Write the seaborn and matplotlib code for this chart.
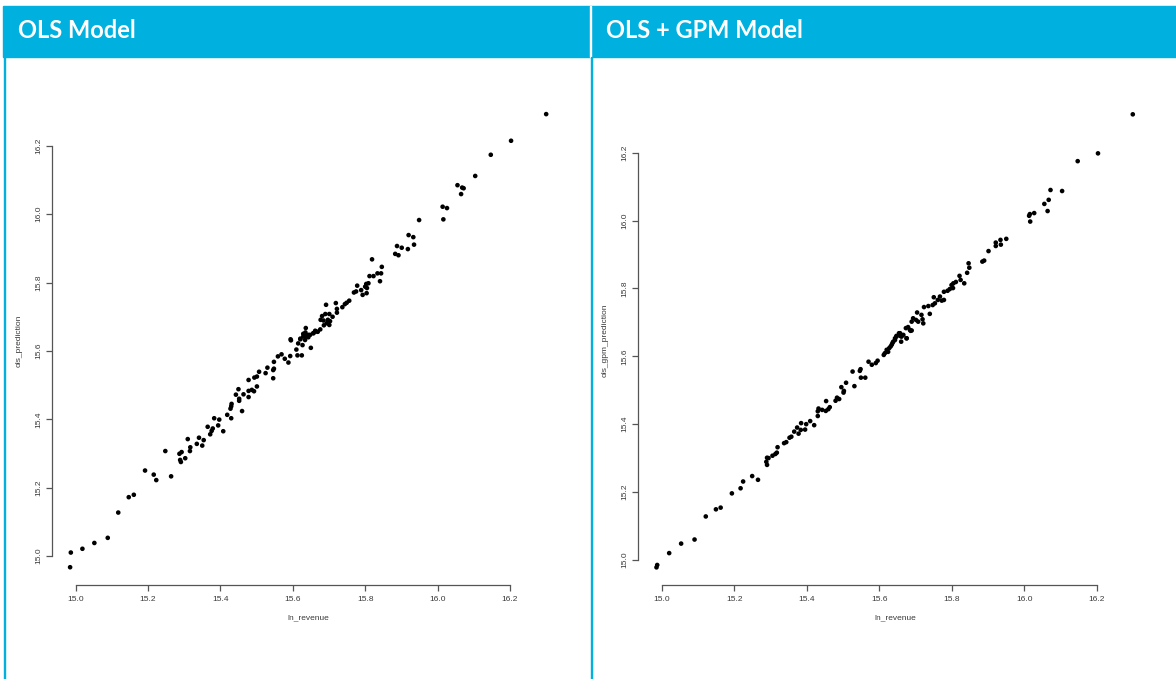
import matplotlib
matplotlib.use("Agg")
import matplotlib.pyplot as plt
from matplotlib.patches import Rectangle
import pandas as pd
import seaborn as sns

# ---------------- data ----------------
panel_titles = ["OLS Model", "OLS + GPM Model"]
x_label = "ln_revenue"
y_labels = ["ols_prediction", "ols_gpm_prediction"]
tick_values = [15.0, 15.2, 15.4, 15.6, 15.8, 16.0, 16.2]
tick_labels = ["15.0", "15.2", "15.4", "15.6", "15.8", "16.0", "16.2"]

ols_x = [16.300, 16.203, 16.147, 16.104, 16.055, 16.068, 16.072, 16.065, 16.014, 16.026,
         16.016, 15.949, 15.920, 15.933, 15.935, 15.918, 15.888, 15.901, 15.883, 15.892,
         15.819, 15.846, 15.834, 15.844, 15.812, 15.823, 15.841, 15.809, 15.803, 15.778,
         15.800, 15.805, 15.789, 15.769, 15.775, 15.793, 15.804, 15.756, 15.749, 15.744,
         15.737, 15.719, 15.692, 15.722, 15.722, 15.681, 15.690, 15.701, 15.710, 15.697,
         15.685, 15.677, 15.703, 15.694, 15.701, 15.686, 15.676, 15.669, 15.662, 15.636,
         15.657, 15.648, 15.639, 15.629, 15.643, 15.594, 15.621,
         14.987, 14.985, 15.019, 15.052, 15.089, 15.118, 15.147, 15.161, 15.192, 15.216,
         15.223, 15.248, 15.264, 15.287, 15.293, 15.289, 15.291, 15.303, 15.310, 15.317,
         15.316, 15.341, 15.354, 15.335, 15.350, 15.365, 15.379, 15.376, 15.372, 15.383,
         15.397, 15.394, 15.408, 15.419, 15.430, 15.428, 15.431, 15.430, 15.460, 15.443,
         15.450, 15.452, 15.452, 15.464, 15.478, 15.478, 15.487, 15.493, 15.478, 15.501,
         15.494, 15.501, 15.507, 15.525, 15.530, 15.546, 15.548, 15.546, 15.548, 15.559,
         15.569, 15.578, 15.588, 15.593, 15.595, 15.610, 15.613, 15.625, 15.615, 15.627,
         15.621, 15.634, 15.639, 15.629, 15.635, 15.643, 15.650, 15.657, 15.664]
ols_pred = [16.293, 16.215, 16.174, 16.112, 16.085, 16.078, 16.076, 16.059, 16.022, 16.018,
            15.985, 15.983, 15.939, 15.933, 15.911, 15.898, 15.907, 15.902, 15.884, 15.880,
            15.868, 15.846, 15.827, 15.827, 15.819, 15.819, 15.804, 15.798, 15.796, 15.791,
            15.788, 15.784, 15.778, 15.771, 15.774, 15.764, 15.769, 15.747, 15.741, 15.737,
            15.728, 15.740, 15.735, 15.723, 15.712, 15.702, 15.708, 15.708, 15.700, 15.691,
            15.689, 15.691, 15.687, 15.681, 15.676, 15.675, 15.663, 15.656, 15.659, 15.667,
            15.652, 15.647, 15.644, 15.642, 15.640, 15.634, 15.636,
            15.010, 14.967, 15.021, 15.038, 15.053, 15.127, 15.172, 15.179, 15.250, 15.238,
            15.222, 15.307, 15.233, 15.299, 15.304, 15.281, 15.275, 15.286, 15.342, 15.318,
            15.307, 15.346, 15.339, 15.328, 15.323, 15.378, 15.373, 15.366, 15.356, 15.403,
            15.399, 15.382, 15.365, 15.413, 15.403, 15.431, 15.445, 15.438, 15.424, 15.472,
            15.488, 15.460, 15.454, 15.473, 15.515, 15.483, 15.486, 15.482, 15.465, 15.496,
            15.522, 15.525, 15.539, 15.535, 15.551, 15.544, 15.548, 15.520, 15.568, 15.584,
            15.590, 15.577, 15.566, 15.585, 15.631, 15.604, 15.587, 15.587, 15.622, 15.617,
            15.634, 15.632, 15.642, 15.650, 15.654, 15.647, 15.609, 15.652, 15.657]

gpm_x = [16.299, 16.203, 16.147, 16.072, 16.104, 16.067, 16.055, 16.064, 16.015, 16.027,
         16.013, 16.016, 15.950, 15.934, 15.921, 15.935, 15.921, 15.901, 15.889, 15.884,
         15.846, 15.848, 15.842, 15.821, 15.824, 15.834, 15.811, 15.804, 15.799, 15.803,
         15.794, 15.788, 15.778, 15.767, 15.772, 15.778, 15.761, 15.750, 15.753, 15.747,
         15.735, 15.723, 15.739, 15.704, 15.716, 15.693, 15.701, 15.707, 15.719, 15.721,
         15.689, 15.673, 15.679, 15.684, 15.689, 15.657, 15.647, 15.661, 15.675, 15.643,
         14.985, 14.987, 15.020, 15.053, 15.090, 15.121, 15.149, 15.162, 15.193, 15.217,
         15.224, 15.249, 15.265, 15.290, 15.294, 15.288, 15.290, 15.305, 15.313, 15.319,
         15.317, 15.337, 15.343, 15.352, 15.357, 15.365, 15.373, 15.377, 15.384, 15.383,
         15.395, 15.398, 15.409, 15.420, 15.430, 15.430, 15.432, 15.442, 15.452, 15.459,
         15.463, 15.453, 15.479, 15.483, 15.489, 15.495, 15.502, 15.501, 15.508, 15.531,
         15.526, 15.546, 15.548, 15.549, 15.561, 15.570, 15.579, 15.590, 15.595, 15.612,
         15.615, 15.620, 15.624, 15.627, 15.631, 15.634, 15.636, 15.638, 15.643, 15.647,
         15.654, 15.658, 15.666, 15.675, 15.660, 15.686]
gpm_pred = [16.313, 16.198, 16.175, 16.090, 16.087, 16.061, 16.049, 16.028, 16.019, 16.022,
            16.014, 15.997, 15.946, 15.943, 15.935, 15.929, 15.925, 15.910, 15.882, 15.879,
            15.874, 15.861, 15.846, 15.837, 15.825, 15.815, 15.819, 15.815, 15.810, 15.801,
            15.798, 15.793, 15.790, 15.776, 15.764, 15.766, 15.766, 15.774, 15.756, 15.751,
            15.748, 15.745, 15.725, 15.729, 15.722, 15.712, 15.707, 15.702, 15.709, 15.697,
            15.702, 15.683, 15.686, 15.678, 15.676, 15.668, 15.660, 15.658, 15.653, 15.653,
            14.978, 14.985, 15.020, 15.048, 15.060, 15.128, 15.149, 15.154, 15.196, 15.211,
            15.231, 15.247, 15.236, 15.301, 15.300, 15.289, 15.280, 15.307, 15.312, 15.332,
            15.316, 15.344, 15.347, 15.360, 15.363, 15.378, 15.390, 15.372, 15.403, 15.383,
            15.384, 15.400, 15.409, 15.397, 15.424, 15.438, 15.446, 15.442, 15.439, 15.444,
            15.450, 15.468, 15.469, 15.478, 15.474, 15.509, 15.498, 15.493, 15.522, 15.512,
            15.555, 15.557, 15.562, 15.537, 15.537, 15.584, 15.575, 15.580, 15.587, 15.604,
            15.609, 15.619, 15.613, 15.624, 15.629, 15.634, 15.639, 15.643, 15.648, 15.658,
            15.668, 15.660, 15.663, 15.653, 15.643, 15.675]

df_ols = pd.DataFrame({"ln_revenue": ols_x, "ols_prediction": ols_pred})
df_gpm = pd.DataFrame({"ln_revenue": gpm_x, "ols_gpm_prediction": gpm_pred})

# ---------------- style ----------------
sns.set_style("white")
plt.rcParams["font.family"] = ["Liberation Sans", "DejaVu Sans"]

BLUE = "#00B0DE"
AXCOL = "#555555"
TXTCOL = "#3a3a3a"

fig = plt.figure(figsize=(11.76, 6.79), dpi=100)
W, H = 1176, 679

def fx(px):
    return px / W

def fy(py):
    return 1 - py / H

# header band
fig.patches.append(Rectangle((fx(3), fy(57)), fx(1176 - 3), 51 / H,
                             transform=fig.transFigure, color=BLUE, zorder=0))
# white divider inside band
fig.patches.append(Rectangle((fx(590), fy(57)), 1.5 / W, 51 / H,
                             transform=fig.transFigure, color="white", zorder=1))
# blue vertical border lines below band
for xpx in (3.5, 590.5):
    fig.patches.append(Rectangle((fx(xpx), 0), 1.6 / W, fy(57),
                                 transform=fig.transFigure, color=BLUE, zorder=1))

fig.text(fx(18), fy(31), panel_titles[0], color="white", fontsize=17,
         fontweight="bold", family=["Lato", "DejaVu Sans"], va="center", ha="left")
fig.text(fx(606), fy(31), panel_titles[1], color="white", fontsize=17,
         fontweight="bold", family=["Lato", "DejaVu Sans"], va="center", ha="left")

# axes (pixel boxes derived from the reference's tick positions)
ax1 = fig.add_axes([fx(52), fy(585), (565 - 52) / W, (585 - 96) / H])
ax2 = fig.add_axes([fx(638), fy(585), (1152 - 638) / W, (585 - 96) / H])

sns.scatterplot(data=df_ols, x="ln_revenue", y="ols_prediction", ax=ax1,
                color="black", s=11, linewidth=0, edgecolor="none")
sns.scatterplot(data=df_gpm, x="ln_revenue", y="ols_gpm_prediction", ax=ax2,
                color="black", s=11, linewidth=0, edgecolor="none")

ax1.set_xlim(14.935, 16.352)
ax1.set_ylim(14.915, 16.346)
ax2.set_xlim(14.934, 16.352)
ax2.set_ylim(14.926, 16.367)

for ax, yl in ((ax1, y_labels[0]), (ax2, y_labels[1])):
    ax.set_facecolor("none")
    ax.set_xticks(tick_values)
    ax.set_xticklabels(tick_labels)
    ax.set_yticks(tick_values)
    ax.set_yticklabels(tick_labels, rotation=90, va="center")
    for side in ("top", "right"):
        ax.spines[side].set_visible(False)
    for side in ("left", "bottom"):
        ax.spines[side].set_visible(True)
        ax.spines[side].set_color(AXCOL)
        ax.spines[side].set_linewidth(0.9)
        ax.spines[side].set_bounds(15.0, 16.2)
    ax.tick_params(axis="both", which="major", length=4, width=0.9,
                   color=AXCOL, labelsize=6, labelcolor=TXTCOL, direction="out",
                   bottom=True, left=True)
    ax.tick_params(axis="x", pad=4)
    ax.tick_params(axis="y", pad=3)
    ax.set_xlabel(x_label, fontsize=6, color=TXTCOL, labelpad=8)
    ax.set_ylabel(yl, fontsize=6, color=TXTCOL, labelpad=9)
    ax.grid(False)

fig.savefig("out.png", dpi=100, facecolor="white")
